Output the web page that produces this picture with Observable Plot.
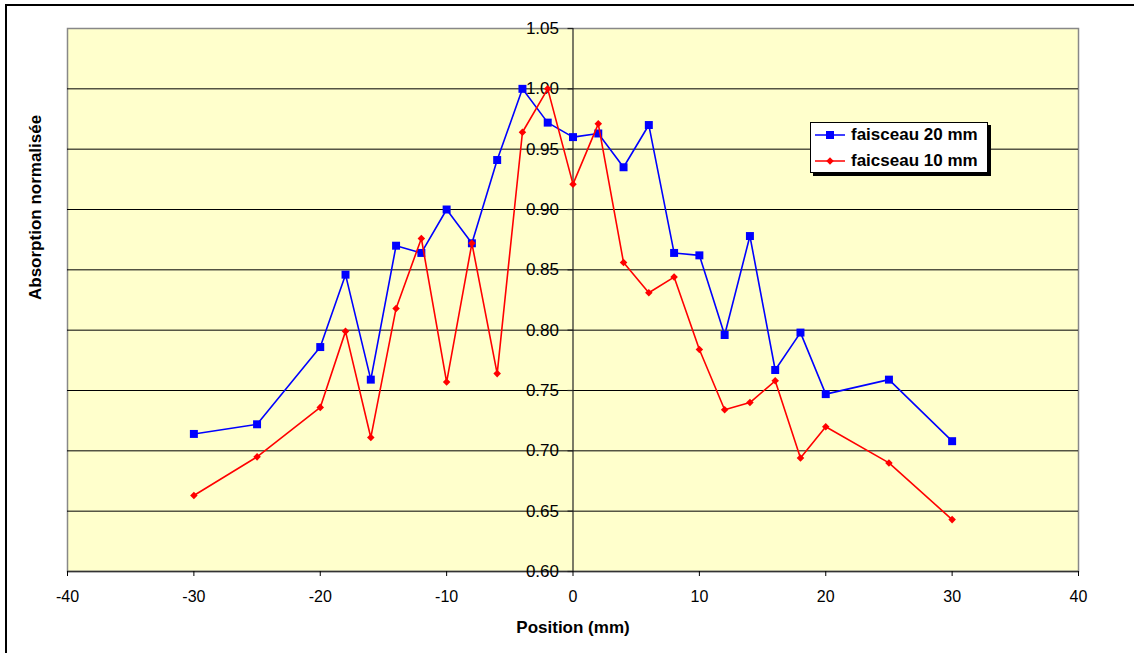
<!DOCTYPE html>
<html>
<head>
<meta charset="utf-8">
<script src="https://cdn.jsdelivr.net/npm/d3@7"></script>
<script src="https://cdn.jsdelivr.net/npm/@observablehq/plot@0.6"></script>
<style>
  html, body { margin: 0; padding: 0; background: #fff; overflow: hidden; }
  #wrap { position: relative; width: 1134px; height: 653px; }
  #border { position: absolute; left: 5px; top: 4px; width: 1140px; height: 660px; border-left: 2px solid #000; border-top: 2px solid #000; box-sizing: border-box; pointer-events: none; }
  #legend { position: absolute; left: 810px; top: 122px; width: 178px; height: 51px; box-sizing: border-box; border: 1px solid #000; background: #fff; box-shadow: 3px 3px 0 #000; font-family: "Liberation Sans", Arial, sans-serif; font-weight: bold; font-size: 17px; color: #000; }
  .row { position: absolute; left: 4px; height: 20px; display: flex; align-items: center; white-space: nowrap; }
  .row svg { margin-right: 5px; }
</style>
</head>
<body>
<div id="wrap">
  <div id="chart"></div>
  <div id="border"></div>
  <div id="legend"></div>
</div>
<script>
const positions = [-30, -25, -20, -18, -16, -14, -12, -10, -8, -6, -4, -2, 0, 2, 4, 6, 8, 10, 12, 14, 16, 18, 20, 25, 30];
const beam20 = [0.714, 0.722, 0.786, 0.846, 0.759, 0.870, 0.864, 0.900, 0.872, 0.941, 1.000, 0.972, 0.960, 0.963, 0.935, 0.970, 0.864, 0.862, 0.796, 0.878, 0.767, 0.798, 0.747, 0.759, 0.708];
const beam10 = [0.663, 0.695, 0.736, 0.799, 0.711, 0.818, 0.876, 0.757, 0.872, 0.764, 0.964, 1.000, 0.921, 0.971, 0.856, 0.831, 0.844, 0.784, 0.734, 0.740, 0.758, 0.694, 0.720, 0.690, 0.643];
const seriesNames = ["faisceau 20 mm", "faicseau 10 mm"];
const xTicks = [-40, -30, -20, -10, 0, 10, 20, 30, 40];
const yTicks = [0.60, 0.65, 0.70, 0.75, 0.80, 0.85, 0.90, 0.95, 1.00, 1.05];
const xLabel = "Position (mm)";
const yLabel = "Absorption normalisée";

const s20 = positions.map((x, i) => ({x, y: beam20[i]}));
const s10 = positions.map((x, i) => ({x, y: beam10[i]}));
const gridTicks = yTicks.filter(t => t > 0.6 + 1e-9 && t < 1.05 - 1e-9);

const leftTick = { draw(ctx) { ctx.moveTo(-5.5, 0); ctx.lineTo(0, 0); } };

const chart = Plot.plot({
  width: 1134,
  height: 653,
  marginLeft: 67,
  marginRight: 56,
  marginTop: 28,
  marginBottom: 82,
  style: { fontFamily: "'Liberation Sans', Arial, sans-serif", fontSize: "16px", background: "transparent", color: "#000", overflow: "visible" },
  x: { domain: [-40, 40] },
  y: { domain: [0.6, 1.05], axis: null },
  marks: [
    Plot.frame({ fill: "#FFFFCC", stroke: "#888888", strokeWidth: 1.5 }),
    Plot.ruleY(gridTicks, { stroke: "#000", strokeWidth: 1 }),
    Plot.ruleY([0.6], { stroke: "#333", strokeWidth: 1.5 }),
    Plot.ruleX([0], { stroke: "#222", strokeWidth: 1.2 }),
    Plot.dot(yTicks, { x: () => 0, y: d => d, symbol: leftTick, stroke: "#222", fill: "none", strokeWidth: 1.2 }),
    Plot.text(yTicks, { x: () => 0, y: d => d, text: d => d.toFixed(2), textAnchor: "end", dx: -14, fontSize: 17 }),
    Plot.axisX({ ticks: xTicks, tickSize: 5, tickPadding: 14, fontSize: 16, label: null, tickFormat: d => String(d) }),
    Plot.line(s20, { x: "x", y: "y", stroke: "#0000FF", strokeWidth: 1.6 }),
    Plot.dot(s20, { x: "x", y: "y", symbol: "square", r: 4.5, fill: "#0000FF" }),
    Plot.line(s10, { x: "x", y: "y", stroke: "#FF0000", strokeWidth: 1.6 }),
    Plot.dot(s10, { x: "x", y: "y", symbol: "diamond2", r: 3.4, fill: "#FF0000" }),
    Plot.text([xLabel], { frameAnchor: "bottom", dy: 61, fontWeight: "bold", fontSize: 17 }),
    Plot.text([yLabel], { frameAnchor: "left", rotate: -90, dx: -32, fontWeight: "bold", fontSize: 17 })
  ]
});
document.getElementById("chart").appendChild(chart);

// Legend
const legend = d3.select("#legend");
const legendItems = [
  { name: seriesNames[0], color: "#0000FF", symbol: d3.symbolSquare, size: 64 },
  { name: seriesNames[1], color: "#FF0000", symbol: d3.symbolDiamond2, size: 36 }
];
legendItems.forEach((it, i) => {
  const row = legend.append("div").attr("class", "row").style("top", (i === 0 ? 2 : 28) + "px");
  const svg = row.append("svg").attr("width", 31).attr("height", 12);
  svg.append("line").attr("x1", 0).attr("x2", 30).attr("y1", 6).attr("y2", 6).attr("stroke", it.color).attr("stroke-width", 1.5);
  svg.append("path").attr("transform", "translate(15,6)").attr("d", d3.symbol(it.symbol, it.size)()).attr("fill", it.color);
  row.append("span").text(it.name);
});
</script>
</body>
</html>
